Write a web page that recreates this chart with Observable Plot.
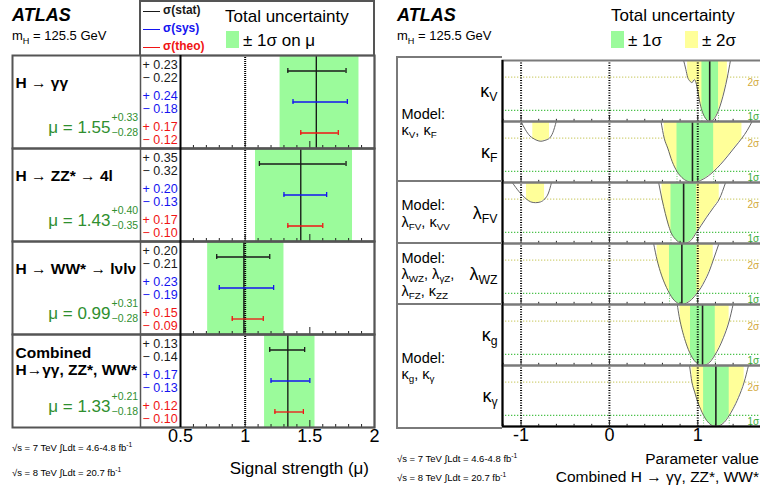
<!DOCTYPE html>
<html><head><meta charset="utf-8">
<script src="https://cdn.jsdelivr.net/npm/d3@7"></script>
<script src="https://cdn.jsdelivr.net/npm/@observablehq/plot@0.6"></script>
<style>
body{margin:0;background:#fff;font-family:"Liberation Sans",Arial,Helvetica,sans-serif;color:#000;}
#wrap{position:relative;width:760px;height:491px;overflow:hidden;background:#fff;}
.abs{position:absolute;white-space:nowrap;line-height:1.15;}
.box{position:absolute;box-sizing:border-box;}
svg.panel{position:absolute;top:0;}
sub,sup{font-size:70%;}
</style></head><body><div id="wrap"></div>
<script>
// ================= LEFT PANEL DATA (signal strength) =================
const channels = ["H → γγ", "H → ZZ* → 4l", "H → WW* → lνlν", "Combined\nH→γγ, ZZ*, WW*"];
const mu     = [1.55, 1.43, 0.99, 1.33];
const totUp  = [0.33, 0.40, 0.31, 0.21];
const totDn  = [0.28, 0.35, 0.28, 0.18];
const statUp = [0.23, 0.35, 0.20, 0.13];
const statDn = [0.22, 0.32, 0.21, 0.14];
const sysUp  = [0.24, 0.20, 0.23, 0.17];
const sysDn  = [0.18, 0.13, 0.19, 0.13];
const theoUp = [0.17, 0.17, 0.15, 0.12];
const theoDn = [0.12, 0.10, 0.09, 0.10];
const kinds = ["stat", "sys", "theo"];
const muTicks = [0.5, 1, 1.5, 2];
const muMinorTicks = [0.6, 0.7, 0.8, 0.9, 1.1, 1.2, 1.3, 1.4, 1.6, 1.7, 1.8, 1.9];
const muMajorTicks = [1, 1.5];
const muRef = [1];

// ================= RIGHT PANEL DATA (coupling fits, -2 ln Λ) =================
const params  = ["κ_{V}", "κ_{F}", "λ_{FV}", "λ_{WZ}", "κ_{g}", "κ_{γ}"];
const bestFit = [1.135, 0.94, 0.84, 0.82, 1.054, 1.205];
const lo1 = [1.047, 0.765, 0.697, 0.68, 0.918, 1.066];
const hi1 = [1.235, 1.18, 0.985, 0.99, 1.198, 1.356];
const lo2 = [0.885, 0.62, 0.595, 0.54, 0.80, 0.934];
const hi2 = [1.335, 1.50, 1.243, 1.175, 1.355, 1.525];
const curveKV = [[0.84,5.5],[0.865,4.7],[0.885,4.0],[0.91,3.65],[0.935,3.5],[0.96,3.78],[0.98,3.5],[1.0,2.75],[1.02,1.85],[1.047,1.0],[1.075,0.45],[1.105,0.12],[1.135,0],[1.17,0.12],[1.2,0.42],[1.235,1.0],[1.27,1.85],[1.30,2.75],[1.335,4.0],[1.37,5.5]];
const curveKF = [[0.584,5.5],[0.62,4.0],[0.66,3.1],[0.71,1.9],[0.765,1.0],[0.82,0.45],[0.88,0.12],[0.94,0],[1.0,0.08],[1.06,0.3],[1.12,0.6],[1.18,1.0],[1.26,1.65],[1.34,2.4],[1.42,3.2],[1.50,4.0],[1.56,4.7],[1.615,5.5]];
const curveLFV = [[0.557,5.5],[0.595,4.0],[0.633,2.7],[0.665,1.75],[0.697,1.0],[0.73,0.55],[0.765,0.25],[0.80,0.06],[0.84,0],[0.88,0.07],[0.93,0.35],[0.985,1.0],[1.04,1.65],[1.10,2.37],[1.18,3.27],[1.243,4.0],[1.315,5.5]];
const curveLWZ = [[0.50,5.5],[0.54,4.0],[0.575,3.0],[0.61,2.2],[0.645,1.55],[0.68,1.0],[0.72,0.5],[0.77,0.14],[0.82,0],[0.87,0.12],[0.93,0.45],[0.99,1.0],[1.035,1.5],[1.08,2.15],[1.13,3.0],[1.175,4.0],[1.24,5.5]];
const curveKG = [[0.768,5.5],[0.79,4.4],[0.80,4.0],[0.83,3.0],[0.87,1.95],[0.918,1.0],[0.96,0.45],[1.0,0.14],[1.054,0],[1.10,0.1],[1.15,0.42],[1.198,1.0],[1.24,1.6],[1.29,2.5],[1.355,4.0],[1.40,5.5]];
const curveKGA = [[0.907,5.5],[0.934,4.0],[0.965,3.1],[1.0,2.2],[1.033,1.55],[1.066,1.0],[1.10,0.55],[1.15,0.15],[1.205,0],[1.25,0.1],[1.30,0.38],[1.356,1.0],[1.40,1.6],[1.46,2.6],[1.525,4.0],[1.574,5.5]];
const curves = [curveKV, curveKF, curveLFV, curveLWZ, curveKG, curveKGA];
// secondary (negative) minima
const altParams = ["κ_{F}", "λ_{FV}"];
const altLo2 = [-0.867, -0.938];
const altHi2 = [-0.678, -0.734];
const curveKFalt  = [[-1.0,5.5],[-0.95,4.75],[-0.90,4.2],[-0.867,4.0],[-0.82,3.8],[-0.775,3.72],[-0.73,3.8],[-0.678,4.0],[-0.64,4.5],[-0.602,5.5]];
const curveLFValt = [[-1.10,5.5],[-1.02,4.65],[-0.938,4.0],[-0.89,3.75],[-0.836,3.68],[-0.78,3.75],[-0.734,4.0],[-0.69,4.55],[-0.655,5.5]];
const altCurves = [curveKFalt, curveLFValt];
const sigmaVals = [1, 4];
const sigmaNames = ["1σ", "2σ"];
const kTicks = [-1, 0, 1];
const kMinorTicks = [-1.2, -0.8, -0.6, -0.4, -0.2, 0.2, 0.4, 0.6, 0.8, 1.2, 1.4, 1.6];
const modelRows   = ["κ_{V}", "λ_{FV}", "λ_{WZ}", "κ_{g}"];
const modelText   = ["Model:\nκ_{V}, κ_{F}", "Model:\nλ_{FV}, κ_{VV}", "Model:\nλ_{WZ}, λ_{γZ},\nλ_{FZ}, κ_{ZZ}", "Model:\nκ_{g}, κ_{γ}"];
const modelSpans  = [2, 1, 1, 2];

// ================= helpers =================
const wrap = document.getElementById("wrap");
const FONT = "'Liberation Sans', Arial, Helvetica, sans-serif";
function addText(html, x, yc, size, style = "", alignRight = false) {
  const d = document.createElement("div");
  d.className = "abs";
  d.style.cssText = `${alignRight ? `right:${760 - x}px;` : `left:${x}px;`}top:${yc - size * 0.6}px;font-size:${size}px;${style}`;
  d.innerHTML = html;
  wrap.appendChild(d);
  return d;
}
function addBox(x, y, w, h, style) {
  const d = document.createElement("div");
  d.className = "box";
  d.style.cssText = `left:${x}px;top:${y}px;width:${w}px;height:${h}px;${style}`;
  wrap.appendChild(d);
}
function richText(svg) {
  const NS = "http://www.w3.org/2000/svg";
  for (const el of Array.from(svg.querySelectorAll("text, tspan"))) {
    if (el.childElementCount) continue;
    const s = el.textContent;
    if (!/_\{/.test(s)) continue;
    el.textContent = "";
    const re = /_\{([^}]*)\}/g; let last = 0, m;
    while ((m = re.exec(s))) {
      if (m.index > last) el.appendChild(document.createTextNode(s.slice(last, m.index)));
      const t = document.createElementNS(NS, "tspan");
      t.setAttribute("font-size", "0.68em");
      t.setAttribute("baseline-shift", "-0.35em");
      t.textContent = m[1];
      el.appendChild(t);
      last = re.lastIndex;
    }
    if (last < s.length) el.appendChild(document.createTextNode(s.slice(last)));
  }
}

// ================= LEFT PANEL =================
const L = {top: 55, bottom: 64, left: 180, right: 6};
const rowHL = (491 - L.top - L.bottom) / channels.length;
const rowsL = channels.map((ch, i) => ({ch, mu: mu[i], lo: mu[i] - totDn[i], hi: mu[i] + totUp[i], up: totUp[i], dn: totDn[i]}));
const errs = channels.flatMap((ch, i) => [
  {ch, kind: "stat", up: statUp[i], dn: statDn[i]},
  {ch, kind: "sys",  up: sysUp[i],  dn: sysDn[i]},
  {ch, kind: "theo", up: theoUp[i], dn: theoDn[i]}
].map(d => ({...d, lo: mu[i] - d.dn, hi: mu[i] + d.up})));
const green = "#2f8f2f";

const leftSvg = Plot.plot({
  width: 380, height: 491,
  marginTop: L.top, marginBottom: L.bottom, marginLeft: L.left, marginRight: L.right,
  style: {fontFamily: FONT, background: "transparent"},
  x: {domain: [0.5, 2]},
  y: {type: "band", domain: kinds, padding: 0, axis: null},
  fy: {domain: channels, padding: 0, axis: null},
  color: {domain: kinds, range: ["#1a1a1a", "#1414f0", "#f01414"]},
  marks: [
    Plot.rectX(rowsL, {x1: "lo", x2: "hi", fy: "ch", fill: "#9bfb9b"}),
    Plot.ruleX(muRef, {stroke: "#000", strokeWidth: 2, strokeDasharray: "1,1"}),
    Plot.ruleX(rowsL, {x: "mu", fy: "ch", stroke: "#111", strokeWidth: 1.3}),
    Plot.ruleY(errs, {y: "kind", x1: "lo", x2: "hi", fy: "ch", stroke: "kind", strokeWidth: 1.3}),
    Plot.tickX(errs, {x: "lo", y: "kind", fy: "ch", stroke: "kind", strokeWidth: 1.3, insetTop: 13, insetBottom: 13}),
    Plot.tickX(errs, {x: "hi", y: "kind", fy: "ch", stroke: "kind", strokeWidth: 1.3, insetTop: 13, insetBottom: 13}),
    Plot.ruleX(muMinorTicks, {stroke: "#222", insetTop: rowHL - 3}),
    Plot.ruleX(muMajorTicks, {stroke: "#222", insetTop: rowHL - 7}),
    Plot.frame({stroke: "#555", strokeWidth: 2, insetLeft: -(L.left - 12)}),
    Plot.frame({stroke: "#555", strokeWidth: 1.5, insetLeft: -40}),
    Plot.ruleX([0.5], {stroke: "#000", strokeWidth: 2}),
    // uncertainty numbers
    Plot.text(errs, {y: "kind", fy: "ch", text: d => `+ ${d.up.toFixed(2)}`, frameAnchor: "left", dx: -38, dy: -6.5, textAnchor: "start", fill: "kind", fontSize: 12.5}),
    Plot.text(errs, {y: "kind", fy: "ch", text: d => `− ${d.dn.toFixed(2)}`, frameAnchor: "left", dx: -38, dy: 6.5, textAnchor: "start", fill: "kind", fontSize: 12.5}),
    // channel names
    Plot.text(rowsL, {fy: "ch", text: "ch", frameAnchor: "top-left", dx: -165, dy: 27, lineAnchor: "middle", textAnchor: "start", fontWeight: "bold", fontSize: 15.5, lineHeight: 1.1}),
    // mu values
    Plot.text(rowsL, {fy: "ch", text: d => `μ = ${d.mu.toFixed(2)}`, frameAnchor: "top-left", dx: -70, dy: 65, textAnchor: "end", fill: green, fontSize: 17}),
    Plot.text(rowsL, {fy: "ch", text: d => `+${d.up.toFixed(2)}`, frameAnchor: "top-left", dx: -69, dy: 58, textAnchor: "start", fill: green, fontSize: 10.5}),
    Plot.text(rowsL, {fy: "ch", text: d => `−${d.dn.toFixed(2)}`, frameAnchor: "top-left", dx: -69, dy: 73, textAnchor: "start", fill: green, fontSize: 10.5}),
    Plot.axisX({ticks: muTicks, tickSize: 0, tickPadding: 2, fontSize: 18, tickFormat: d => `${d}`, label: null})
  ]
});
leftSvg.classList.add("panel");
leftSvg.style.left = "0px";
wrap.appendChild(leftSvg);

// ================= RIGHT PANEL =================
const R = {top: 57, bottom: 63, left: 117, right: 0};
const rowHR = (491 - R.top - R.bottom) / params.length;
const yTop = 5.5;
const curvePts = [];
params.forEach((p, i) => curves[i].forEach(([x, y]) => curvePts.push({p, seg: p + "main", x, y})));
altParams.forEach((p, i) => altCurves[i].forEach(([x, y]) => curvePts.push({p, seg: p + "alt", x, y})));
const bandDefs = [];
params.forEach((p, i) => {
  bandDefs.push({p, seg: p + "main", level: 2, lo: lo2[i], hi: hi2[i]});
  bandDefs.push({p, seg: p + "main", level: 1, lo: lo1[i], hi: hi1[i]});
});
altParams.forEach((p, i) => bandDefs.push({p, seg: p + "alt", level: 2, lo: altLo2[i], hi: altHi2[i]}));
const bandPts = bandDefs.flatMap(b => curvePts
  .filter(c => c.seg === b.seg && c.x >= b.lo - 1e-9 && c.x <= b.hi + 1e-9)
  .map(c => ({...c, key: b.seg + b.level, level: b.level})));
const band1 = bandDefs.filter(b => b.level === 1);
const bestRows = params.map((p, i) => ({p, v: bestFit[i]}));
const paramRows = params.map(p => ({p}));
const models = modelRows.map((p, i) => ({p, text: modelText[i], span: modelSpans[i]}));
const sigmaRows = sigmaVals.map((v, i) => ({v, name: sigmaNames[i]}));
const xDomR = [-1.21, 1.71];

const rightSvg = Plot.plot({
  width: 375, height: 491,
  marginTop: R.top, marginBottom: R.bottom, marginLeft: R.left, marginRight: R.right,
  style: {fontFamily: FONT, background: "transparent"},
  x: {domain: xDomR},
  y: {domain: [0, yTop], axis: null},
  fy: {domain: params, padding: 0, axis: null},
  marks: [
    Plot.ruleY(sigmaRows.filter(d => d.v === 4), {y: "v", stroke: "#d2d27a", strokeWidth: 1.4, strokeDasharray: "1.3,1.7"}),
    Plot.ruleY(sigmaRows.filter(d => d.v === 1), {y: "v", stroke: "#4cc24c", strokeWidth: 1.4, strokeDasharray: "1.3,1.7"}),
    Plot.ruleX(band1, {x: "lo", y1: 0, y2: 1, fy: "p", stroke: "#6c6", strokeDasharray: "1,1.5"}),
    Plot.ruleX(band1, {x: "hi", y1: 0, y2: 1, fy: "p", stroke: "#6c6", strokeDasharray: "1,1.5"}),
    Plot.areaY(bandPts.filter(d => d.level === 2), {x: "x", y1: "y", y2: yTop, z: "key", fy: "p", fill: "#ffff99", curve: "monotone-x", clip: true}),
    Plot.areaY(bandPts.filter(d => d.level === 1), {x: "x", y1: "y", y2: yTop, z: "key", fy: "p", fill: "#9bfb9b", curve: "monotone-x", clip: true}),
    Plot.ruleX(bestRows, {x: "v", fy: "p", stroke: "#222", strokeWidth: 1.6}),
    Plot.line(curvePts, {x: "x", y: "y", z: "seg", fy: "p", stroke: "#666", strokeWidth: 1, curve: "monotone-x", clip: true}),
    Plot.ruleX(kTicks, {stroke: "#000", strokeWidth: 2, strokeDasharray: "1,1.5"}),
    Plot.ruleX(kMinorTicks, {stroke: "#222", insetTop: rowHR - 3}),
    Plot.ruleX(kTicks, {stroke: "#222", insetTop: rowHR - 6}),
    Plot.frame({stroke: "#7a7a7a", strokeWidth: 2, insetRight: -3}),
    Plot.ruleX([xDomR[0]], {stroke: "#000", strokeWidth: 2}),
    Plot.ruleY([{p: params[params.length - 1]}], {y: 0, fy: "p", stroke: "#000", strokeWidth: 2}),
    // sigma labels
    Plot.text(sigmaRows.filter(d => d.v === 4), {y: "v", text: "name", frameAnchor: "right", dx: -13, dy: 6, textAnchor: "start", fill: "#d2a93a", fontSize: 10}),
    Plot.text(sigmaRows.filter(d => d.v === 1), {y: "v", text: "name", frameAnchor: "right", dx: -13, dy: 6, textAnchor: "start", fill: "#3cae3c", fontSize: 10}),
    // parameter labels
    Plot.text(paramRows, {fy: "p", text: "p", frameAnchor: "left", dx: -5, textAnchor: "end", fontSize: 18}),
    // model labels
    Plot.text(models.filter(d => d.span === 2), {fy: "p", text: "text", frameAnchor: "bottom-left", dx: -101, textAnchor: "start", lineAnchor: "middle", fontSize: 14.5, lineHeight: 1.15}),
    Plot.text(models.filter(d => d.span === 1), {fy: "p", text: "text", frameAnchor: "left", dx: -101, textAnchor: "start", lineAnchor: "middle", fontSize: 14.5, lineHeight: 1.15}),
    Plot.axisX({ticks: kTicks, tickSize: 0, tickPadding: 2, fontSize: 18, tickFormat: d => `${d}`, label: null})
  ]
});
richText(rightSvg);
rightSvg.classList.add("panel");
rightSvg.style.left = "385px";
wrap.appendChild(rightSvg);

// right label box borders
const grp = [R.top, R.top + 2 * rowHR, R.top + 3 * rowHR, R.top + 4 * rowHR, R.top + 6 * rowHR];
addBox(396, R.top - 1, 2, grp[4] - R.top + 2, "background:#7a7a7a");
grp.forEach(g => addBox(396, g - 1, 502 - 396, 2, "background:#7a7a7a"));

// ================= HEADERS / LEGENDS / FOOTNOTES (HTML) =================
// left header
addText("ATLAS", 12, 16, 18, "font-weight:bold;font-style:italic;");
addText("m<sub>H</sub> = 125.5 GeV", 12, 37, 13);
addBox(139, 0, 236, 56, "border:2px solid #555;border-bottom:none;");
const legL = [["σ(stat)", "#1a1a1a", 11], ["σ(sys)", "#1414f0", 29], ["σ(theo)", "#f01414", 47]];
legL.forEach(([t, c, y]) => {
  addBox(143, y - 0.5, 17, 1.5, `background:${c}`);
  addText(t, 163, y, 12, `color:${c};font-weight:bold;`);
});
addText("Total uncertainty", 225, 17, 17);
addBox(226, 31, 13, 17, "background:#9bfb9b");
addText("± 1σ on μ", 243, 41, 17);
// right header
addText("ATLAS", 397, 16, 18, "font-weight:bold;font-style:italic;");
addText("m<sub>H</sub> = 125.5 GeV", 397, 37, 13);
addText("Total uncertainty", 611, 16, 17);
addBox(611, 31, 13, 17, "background:#9bfb9b");
addText("± 1σ", 628, 41, 17);
addBox(685, 31, 13, 17, "background:#ffff99");
addText("± 2σ", 702, 41, 17);
// axis titles
addText("Signal strength (μ)", 369, 469, 17, "", true);
addText("Parameter value", 759, 459, 15.5, "", true);
addText("Combined H → γγ, ZZ*, WW*", 759, 477, 15.5, "", true);
// footnotes
const fn1 = "√s = 7 TeV ∫Ldt = 4.6-4.8 fb<sup>-1</sup>";
const fn2 = "√s = 8 TeV ∫Ldt = 20.7 fb<sup>-1</sup>";
addText(fn1, 12, 447, 9.5);
addText(fn2, 12, 472, 9.5);
addText(fn1, 397, 458, 9.5);
addText(fn2, 397, 477, 9.5);
</script></body></html>
